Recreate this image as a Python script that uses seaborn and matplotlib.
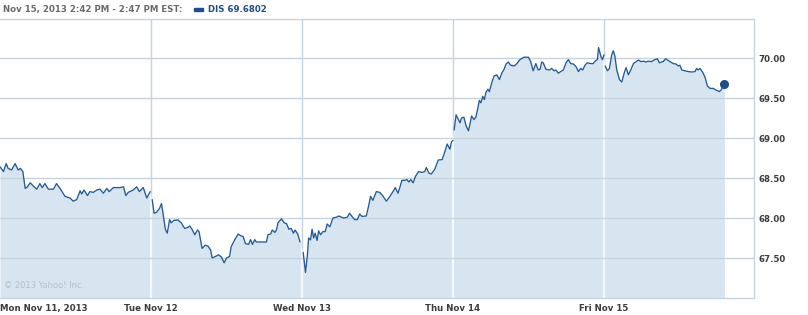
import numpy as np
import pandas as pd
import matplotlib
matplotlib.use("Agg")
import matplotlib.pyplot as plt
import seaborn as sns

# ---------------- data (minutes after 9:30 open, price) ----------------
days = ["Mon Nov 11, 2013", "Tue Nov 12", "Wed Nov 13", "Thu Nov 14", "Fri Nov 15"]

mon_min = [0, 9, 16, 21, 30, 39, 47, 53, 59, 65, 71, 78, 86, 95, 103, 109, 116, 125, 138, 146,
           155, 168, 181, 189, 198, 207, 211, 217, 226, 232, 241, 250, 258, 267, 276, 282, 293,
           310, 319, 325, 331, 344, 353, 360, 370, 379, 388]
mon_px = [68.64, 68.58, 68.68, 68.62, 68.60, 68.68, 68.60, 68.62, 68.58, 68.37, 68.39, 68.44,
          68.40, 68.36, 68.43, 68.38, 68.43, 68.36, 68.36, 68.43, 68.37, 68.27, 68.25, 68.21,
          68.23, 68.34, 68.30, 68.35, 68.28, 68.33, 68.32, 68.35, 68.36, 68.31, 68.37, 68.33,
          68.38, 68.38, 68.39, 68.28, 68.32, 68.35, 68.39, 68.33, 68.38, 68.25, 68.33]

tue_min = [3, 8, 14, 22, 27, 31, 37, 42, 48, 52, 59, 70, 78, 87, 94, 100, 106, 113, 120, 124,
           132, 140, 147, 154, 158, 169, 175, 182, 189, 195, 203, 207, 216, 225, 233, 238, 244,
           252, 257, 262, 268, 272, 281, 298, 302, 309, 313, 320, 324, 328, 337, 344, 350, 356,
           362, 368, 372, 379, 385]
tue_px = [68.23, 68.06, 68.07, 68.12, 68.18, 68.06, 67.86, 67.81, 67.98, 67.94, 67.97, 67.975,
          67.94, 67.87, 67.88, 67.90, 67.86, 67.79, 67.85, 67.83, 67.62, 67.66, 67.65, 67.60,
          67.50, 67.525, 67.54, 67.51, 67.44, 67.50, 67.52, 67.64, 67.725, 67.80, 67.775, 67.77,
          67.68, 67.67, 67.73, 67.67, 67.73, 67.70, 67.70, 67.70, 67.79, 67.80, 67.85, 67.82,
          67.85, 67.94, 67.99, 67.94, 67.93, 67.86, 67.87, 67.81, 67.85, 67.80, 67.70]

wed_min = [3, 9, 14, 17, 22, 26, 30, 34, 39, 43, 48, 54, 60, 65, 72, 80, 89, 95, 102, 108, 117,
           123, 129, 136, 143, 149, 155, 166, 172, 177, 183, 192, 201, 209, 218, 227, 235, 241,
           248, 252, 258, 265, 271, 276, 281, 287, 293, 301, 310, 317, 321, 328, 334, 343, 352,
           362, 369, 375, 382, 386, 390]
wed_px = [67.57, 67.32, 67.54, 67.75, 67.725, 67.86, 67.75, 67.81, 67.72, 67.84, 67.79, 67.83,
          67.83, 67.925, 67.89, 68.00, 68.01, 68.025, 68.01, 68.00, 68.01, 68.06, 68.02, 67.98,
          67.98, 68.05, 68.02, 68.025, 68.15, 68.27, 68.22, 68.33, 68.32, 68.275, 68.21, 68.27,
          68.33, 68.38, 68.31, 68.37, 68.47, 68.47, 68.48, 68.45, 68.48, 68.44, 68.52, 68.58,
          68.57, 68.58, 68.63, 68.56, 68.55, 68.61, 68.725, 68.73, 68.83, 68.925, 68.86, 68.95,
          68.97]

thu_min = [3, 8, 14, 18, 22, 28, 34, 40, 44, 48, 54, 59, 64, 68, 72, 77, 81, 85, 90, 94, 100,
           106, 113, 120, 126, 132, 137, 143, 149, 158, 165, 173, 183, 195, 201, 207, 214, 220,
           225, 229, 233, 240, 249, 255, 261, 266, 272, 278, 285, 292, 298, 304, 311, 318, 324,
           330, 335, 341, 347, 356, 362, 368, 373, 376, 382, 386, 390]
thu_px = [69.10, 69.29, 69.23, 69.19, 69.25, 69.26, 69.15, 69.09, 69.18, 69.275, 69.23, 69.26,
          69.37, 69.47, 69.44, 69.52, 69.48, 69.57, 69.61, 69.58, 69.69, 69.775, 69.79, 69.73,
          69.81, 69.86, 69.925, 69.95, 69.91, 69.90, 69.93, 69.98, 70.01, 70.01, 69.95, 69.84,
          69.93, 69.85, 69.86, 69.95, 69.94, 69.86, 69.85, 69.87, 69.84, 69.85, 69.81, 69.83,
          69.85, 69.94, 69.98, 69.93, 69.925, 69.89, 69.83, 69.87, 69.85, 69.91, 69.94, 69.93,
          69.93, 69.965, 69.98, 70.13, 70.02, 69.98, 70.04]

fri_min = [3, 9, 14, 20, 24, 28, 33, 40, 46, 52, 57, 63, 69, 76, 83, 89, 95, 102, 108, 114, 123,
           129, 138, 143, 149, 153, 159, 166, 172, 179, 186, 192, 196, 201, 209, 218, 227, 235,
           239, 243, 248, 255, 261, 267, 274, 282, 289, 298, 304, 311]
fri_px = [69.90, 69.84, 69.87, 70.04, 70.09, 70.025, 69.85, 69.73, 69.70, 69.81, 69.88, 69.79,
          69.85, 69.93, 69.955, 69.975, 69.955, 69.96, 69.95, 69.96, 69.955, 69.975, 69.99, 69.94,
          69.95, 69.955, 69.99, 69.97, 69.95, 69.93, 69.925, 69.90, 69.91, 69.85, 69.84, 69.83,
          69.825, 69.83, 69.87, 69.85, 69.87, 69.82, 69.76, 69.65, 69.62, 69.62, 69.60, 69.58,
          69.61, 69.68]

y_ticks = [67.5, 68.0, 68.5, 69.0, 69.5, 70.0]
header_left = "Nov 15, 2013 2:42 PM - 2:47 PM EST:"
header_right = "DIS 69.6802"
watermark = "\u00a9 2013 Yahoo! Inc."

# ---------------- build table ----------------
DAY_LEN = 390
frames = []
for i, (m, p) in enumerate([(mon_min, mon_px), (tue_min, tue_px), (wed_min, wed_px),
                            (thu_min, thu_px), (fri_min, fri_px)]):
    frames.append(pd.DataFrame({"day": i, "minute": m, "price": p}))
df = pd.concat(frames, ignore_index=True)
df["t"] = df["day"] * DAY_LEN + df["minute"]

# ---------------- styling ----------------
sns.set_style("white")
plt.rcParams["font.family"] = ["DejaVu Sans"]

LINE = "#245a94"
FILL = "#d6e5f0"
GRID = "#c6d4e0"
TXT = "#3c3c3c"

W, H = 808, 315
fig = plt.figure(figsize=(W / 100, H / 100), dpi=100)
left, right, top, bottom = 0.0, 754, 18.5, 298
ax = fig.add_axes([left / W, 1 - bottom / H, (right - left) / W, (bottom - top) / H])

ymin = 67.0
ymax = 70.0 + (58 - top) / 80.0
xmax = (754 / 151.0) * DAY_LEN
ax.set_xlim(0, xmax)
ax.set_ylim(ymin, ymax)

# area fill
fill = ax.fill_between(df["t"], df["price"], ymin, color=FILL, lw=0, zorder=1)

# vertical day separators
bounds = [DAY_LEN * i for i in range(1, 5)]
for b in bounds:
    ax.axvline(b, color=GRID, lw=1.0, zorder=0.5)
    wl = ax.axvline(b, color="#f4f8fb", lw=1.6, zorder=1.5)
    wl.set_clip_path(fill.get_paths()[0], ax.transData)

# horizontal grid
for yv in y_ticks:
    ax.axhline(yv, color=GRID, lw=1.0, zorder=1.6)

# price lines per day
for d in range(5):
    sub = df[df["day"] == d]
    sns.lineplot(data=sub, x="t", y="price", ax=ax, color=LINE, lw=0.95,
                 zorder=3, estimator=None, sort=False)

# last point marker
last = df.iloc[-1]
ax.plot([last["t"]], [last["price"]], "o", color="#1d4e89", ms=5.5, zorder=4)

# axes & ticks
ax.set_xlabel("")
ax.set_ylabel("")
ax.yaxis.tick_right()
ax.set_yticks(y_ticks)
ax.set_yticklabels([f"{v:.2f}" for v in y_ticks], fontsize=6.2, fontweight="bold", color=TXT)
ax.set_xticks([DAY_LEN * i for i in range(5)])
ax.set_xticklabels(days, fontsize=6.2, fontweight="bold", color=TXT)
ax.get_xticklabels()[0].set_ha("left")
ax.tick_params(axis="both", length=0)
ax.tick_params(axis="x", pad=4)
ax.tick_params(axis="y", pad=3)

ax.spines["left"].set_visible(False)
for s in ["right", "bottom"]:
    ax.spines[s].set_visible(True)
    ax.spines[s].set_color(GRID)
    ax.spines[s].set_linewidth(1.0)
ax.spines["top"].set_visible(True)
ax.spines["top"].set_color("#cfd4d9")
ax.spines["top"].set_linewidth(1.0)

# header texts
fig.text(3 / W, 1 - 9.5 / H, header_left, fontsize=6.2, fontweight="bold", color="#6a6a6a",
         ha="left", va="center")
fig.add_artist(plt.Rectangle((194 / W, 1 - 11 / H), 8.5 / W, 3.5 / H, color="#1f4e8a",
                             transform=fig.transFigure))
fig.text(208 / W, 1 - 9.5 / H, header_right, fontsize=6.2, fontweight="bold", color="#1f4e8a",
         ha="left", va="center")

# watermark
ax.text(0.005, 0.03, watermark, transform=ax.transAxes, fontsize=6.0,
        color="#b4c0c9", ha="left", va="bottom", zorder=5)

fig.savefig("out.png", dpi=100)
